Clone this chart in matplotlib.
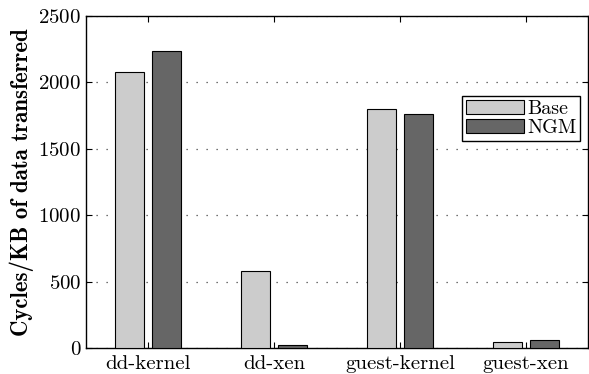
import matplotlib.pyplot as plt
import numpy as np

# data
categories = ['dd-kernel', 'dd-xen', 'guest-kernel', 'guest-xen']
base = [2076, 577, 1802, 47]
ngm = [2236, 20, 1760, 58]
yticks = [0, 500, 1000, 1500, 2000, 2500]

plt.rcParams['font.family'] = 'cmr10'
plt.rcParams['axes.formatter.use_mathtext'] = True

fig = plt.figure(figsize=(5.89, 3.74), dpi=100)
ax = fig.add_axes([0.146, 0.0695, 0.852, 0.888])

x = np.arange(len(categories))
barWidth = 0.23
ax.bar(x - 0.145, base, barWidth, color='#cccccc', edgecolor='black', linewidth=0.8, label='Base', zorder=3)
ax.bar(x + 0.145, ngm, barWidth, color='#666666', edgecolor='black', linewidth=0.8, label='NGM', zorder=3)

ax.set_xlim(-0.49, 3.49)
ax.set_ylim(0, 2500)
ax.set_yticks(yticks)
ax.set_xticks(x)
ax.set_xticklabels(categories)
ax.tick_params(direction='in', top=True, right=True, labelsize=15, length=4)
ax.tick_params(axis='x', pad=5)
ax.yaxis.grid(True, linestyle=(0, (1, 7)), color='#444444', linewidth=0.9)
for s in ax.spines.values():
    s.set_linewidth(1.0)

ax.set_ylabel('Cycles/KB of data transferred', fontsize=16.5, family='cmb10', labelpad=3)

leg = ax.legend(loc='upper right', bbox_to_anchor=(0.985, 0.76), fontsize=14.5, fancybox=False,
                edgecolor='black', framealpha=1, handlelength=2.9, handleheight=0.7,
                borderpad=0.2, labelspacing=0.05, handletextpad=0.15, borderaxespad=0)
leg.get_frame().set_linewidth(1.0)

plt.savefig('out.png', dpi=100)
